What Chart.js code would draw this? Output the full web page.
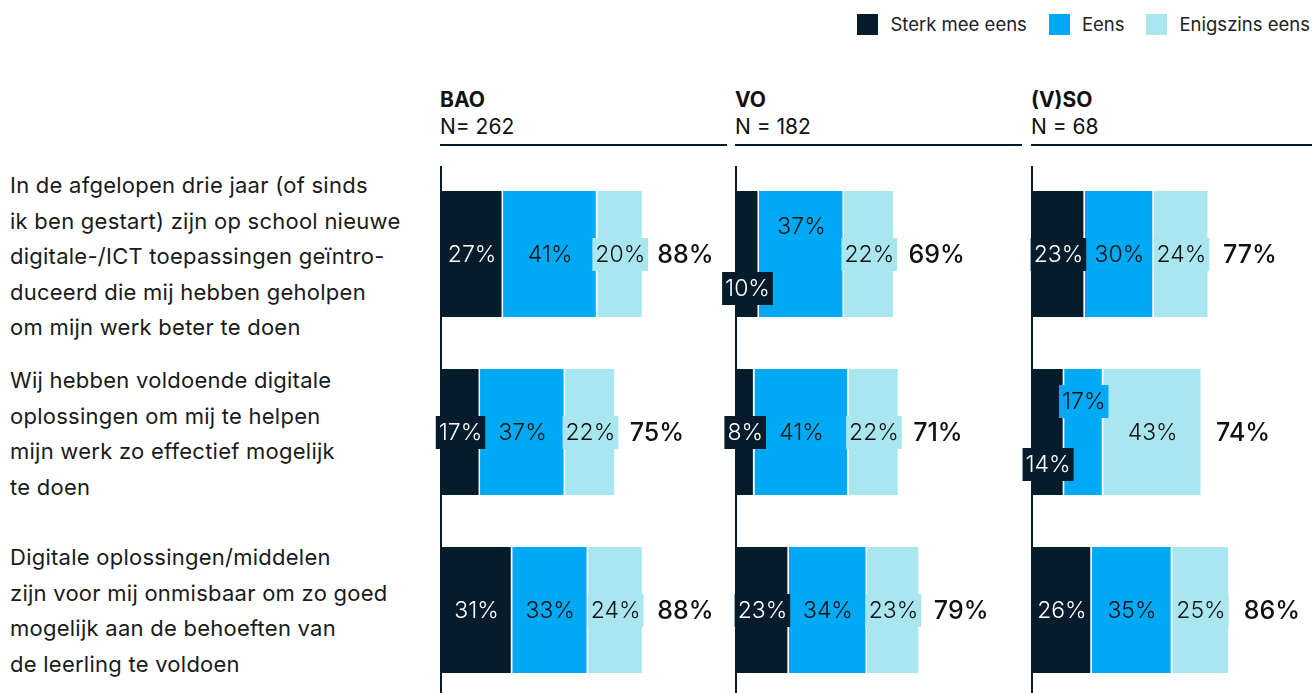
<!DOCTYPE html>
<html>
<head>
<meta charset="utf-8">
<script src="https://cdn.jsdelivr.net/npm/chart.js@4"></script>
<style>
    body { margin: 0; width: 1312px; height: 693px; overflow: hidden; background: #fff; position: relative; font-family: Inter, 'Noto Sans', sans-serif; color: #111; }
    .legend { position: absolute; top: 13px; right: 2px; display: flex; align-items: center; font-size: 18.5px; color: #222; }
    .legend span.sw { display: inline-block; width: 21px; height: 21px; margin-right: 12px; }
    .legend span.item { display: flex; align-items: center; margin-left: 22px; }
    .head { position: absolute; top: 86px; width: 287px; border-bottom: 2px solid #051c2c; padding-bottom: 4px; font-size: 21px; line-height: 27px; }
    .head b { display: block; font-weight: 700; }
    .q { position: absolute; left: 10px; font-size: 22px; letter-spacing: 0.25px; line-height: 35.5px; color: #1a1a1a; transform: translateY(-50%); }
    canvas { position: absolute; top: 0; }
</style>
</head>
<body>
<div class="legend">
    <span class="item"><span class="sw" style="background:#051c2c"></span>Sterk mee eens</span>
    <span class="item"><span class="sw" style="background:#00a9f4"></span>Eens</span>
    <span class="item"><span class="sw" style="background:#aae6f0"></span>Enigszins eens</span>
</div>
<div id="labels"></div>
<canvas id="c0" width="330" height="700"></canvas>
<canvas id="c1" width="330" height="700"></canvas>
<canvas id="c2" width="330" height="700"></canvas>
<script>
// vragen (categorieen)
const questions = [
    'In de afgelopen drie jaar (of sinds<br>ik ben gestart) zijn op school nieuwe<br>digitale-/ICT toepassingen geïntro-<br>duceerd die mij hebben geholpen<br>om mijn werk beter te doen',
    'Wij hebben voldoende digitale<br>oplossingen om mij te helpen<br>mijn werk zo effectief mogelijk<br>te doen',
    'Digitale oplossingen/middelen<br>zijn voor mij onmisbaar om zo goed<br>mogelijk aan de behoeften van<br>de leerling te voldoen'
];
const groupNames = ['BAO', 'VO', '(V)SO'];
const groupN = ['N= 262', 'N = 182', 'N = 68'];
const seriesNames = ['Sterk mee eens', 'Eens', 'Enigszins eens'];

const baoSterk = [27, 17, 31];
const baoEens = [41, 37, 33];
const baoEnigszins = [20, 22, 24];
const baoTotaal = [88, 75, 88];

const voSterk = [10, 8, 23];
const voEens = [37, 41, 34];
const voEnigszins = [22, 22, 23];
const voTotaal = [69, 71, 79];

const vsoSterk = [23, 14, 26];
const vsoEens = [30, 17, 35];
const vsoEnigszins = [24, 43, 25];
const vsoTotaal = [77, 74, 86];

const panels = [
    { values: [baoSterk, baoEens, baoEnigszins], totals: baoTotaal },
    { values: [voSterk, voEens, voEnigszins], totals: voTotaal },
    { values: [vsoSterk, vsoEens, vsoEnigszins], totals: vsoTotaal }
];

const colors = ['#051c2c', '#00a9f4', '#aae6f0'];
const textColors = ['#ffffff', '#111111', '#111111'];
const axisLeft = [441, 736, 1032]; // nulpunt per paneel
const padLeft = 40;

// verschuiving van labels die anders overlappen: 'paneel-rij-serie' -> dy
const labelNudge = { '1-0-0': 34, '1-0-1': -28, '2-1-0': 32, '2-1-1': -31 };

// linker vraagteksten en koppen
const labelsDiv = document.getElementById('labels');
const rowCenters = [257, 434, 611];
questions.forEach(function (q, i) {
    const d = document.createElement('div');
    d.className = 'q';
    d.style.top = rowCenters[i] + 'px';
    d.innerHTML = q;
    labelsDiv.appendChild(d);
});
groupNames.forEach(function (g, i) {
    const d = document.createElement('div');
    d.className = 'head';
    d.style.left = (axisLeft[i] - 1) + 'px';
    d.innerHTML = '<b>' + g + '</b>' + groupN[i];
    labelsDiv.appendChild(d);
});

const barLabels = {
    id: 'barLabels',
    afterDatasetsDraw(chart) {
        const ctx = chart.ctx;
        const p = chart.options.plugins.barLabels;
        const x0 = chart.scales.x.getPixelForValue(0);
        // verticale as
        ctx.save();
        ctx.strokeStyle = '#051c2c';
        ctx.lineWidth = 2;
        ctx.beginPath();
        ctx.moveTo(x0, chart.chartArea.top + 1);
        ctx.lineTo(x0, chart.chartArea.bottom);
        ctx.stroke();

        ctx.textBaseline = 'middle';
        ctx.textAlign = 'center';
        ctx.font = '300 23px Inter';
        chart.data.datasets.forEach(function (ds, di) {
            const meta = chart.getDatasetMeta(di);
            meta.data.forEach(function (el, j) {
                const txt = ds.data[j] + '%';
                const cx = (el.x + el.base) / 2;
                const cy = el.y + (labelNudge[p.panel + '-' + j + '-' + di] || 0);
                const w = ctx.measureText(txt).width + 6;
                ctx.fillStyle = colors[di];
                ctx.fillRect(cx - w / 2, cy - 16, w, 33);
                ctx.fillStyle = textColors[di];
                ctx.fillText(txt, cx, cy + 1);
            });
        });
        // totalen
        const last = chart.getDatasetMeta(chart.data.datasets.length - 1);
        ctx.textAlign = 'left';
        ctx.font = '500 25px Inter';
        ctx.fillStyle = '#111';
        last.data.forEach(function (el, j) {
            ctx.fillText(p.totals[j] + '%', el.x + 14, el.y + 1);
        });
        ctx.restore();
    }
};

panels.forEach(function (panel, pi) {
    const canvas = document.getElementById('c' + pi);
    canvas.style.left = (axisLeft[pi] - padLeft) + 'px';
    new Chart(canvas.getContext('2d'), {
        type: 'bar',
        data: {
            labels: ['1', '2', '3'],
            datasets: panel.values.map(function (vals, si) {
                return {
                    label: seriesNames[si],
                    data: vals,
                    backgroundColor: colors[si],
                    borderColor: '#ffffff',
                    borderWidth: { left: 0, top: 0, bottom: 0, right: 1.5 },
                    borderSkipped: false,
                    barPercentage: 0.708,
                    categoryPercentage: 1
                };
            })
        },
        options: {
            indexAxis: 'y',
            responsive: false,
            animation: false,
            devicePixelRatio: 1,
            layout: { padding: { left: padLeft, right: 5, top: 165, bottom: 1 } },
            scales: {
                x: { stacked: true, min: 0, max: 124, display: false },
                y: { stacked: true, display: false }
            },
            plugins: {
                legend: { display: false },
                tooltip: { enabled: false },
                barLabels: { panel: pi, totals: panel.totals }
            }
        },
        plugins: [barLabels]
    });
});
</script>
</body>
</html>
